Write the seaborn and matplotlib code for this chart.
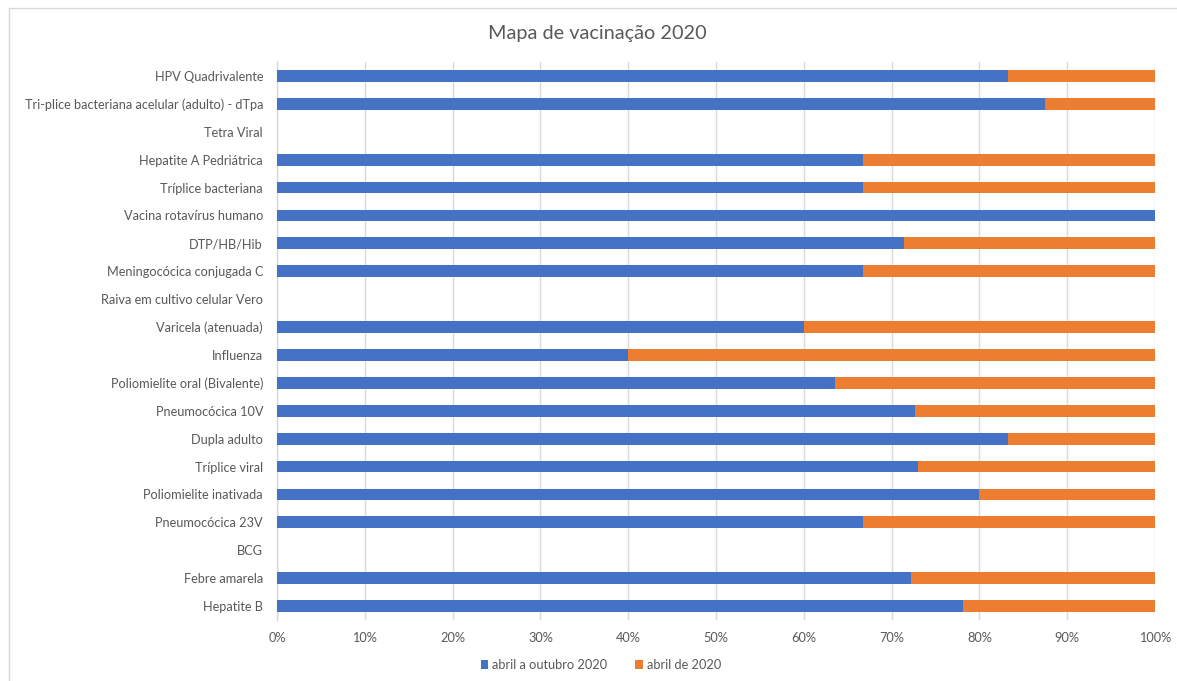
import matplotlib
matplotlib.use("Agg")
import matplotlib.pyplot as plt
from matplotlib.lines import Line2D
from matplotlib.patches import Patch
from matplotlib.ticker import PercentFormatter
import numpy as np
import pandas as pd
import seaborn as sns

# Vaccines, top to bottom
vacinas = [
    "HPV Quadrivalente",
    "Tri-plice bacteriana acelular (adulto) - dTpa",
    "Tetra Viral",
    "Hepatite A Pedriátrica",
    "Tríplice bacteriana",
    "Vacina rotavírus humano",
    "DTP/HB/Hib",
    "Meningocócica conjugada C",
    "Raiva em cultivo celular Vero",
    "Varicela (atenuada)",
    "Influenza",
    "Poliomielite oral (Bivalente)",
    "Pneumocócica 10V",
    "Dupla adulto",
    "Tríplice viral",
    "Poliomielite inativada",
    "Pneumocócica 23V",
    "BCG",
    "Febre amarela",
    "Hepatite B",
]

# Share (%) of each series; None = no doses recorded
abril_outubro = [83.3, 87.5, None, 66.7, 66.7, 100.0, 71.4, 66.7, None, 60.0,
                 40.0, 63.6, 72.7, 83.3, 73.0, 80.0, 66.7, None, 72.2, 78.1]
abril = [16.7, 12.5, None, 33.3, 33.3, 0.0, 28.6, 33.3, None, 40.0,
         60.0, 36.4, 27.3, 16.7, 27.0, 20.0, 33.3, None, 27.8, 21.9]

serie_1 = "abril a outubro 2020"
serie_2 = "abril de 2020"
titulo = "Mapa de vacinação 2020"

AZUL = "#4472C4"
LARANJA = "#ED7D31"
CINZA_TXT = "#595959"

df = pd.DataFrame({"vacina": vacinas,
                   "a": pd.Series(abril_outubro, dtype=float).fillna(0),
                   "b": pd.Series(abril, dtype=float).fillna(0)})
df["total"] = df["a"] + df["b"]

sns.set_theme(style="white")
plt.rcParams["font.family"] = ["Lato", "DejaVu Sans"]

W, H = 1177, 681
fig = plt.figure(figsize=(W / 100, H / 100), dpi=100)
ax = fig.add_axes([277 / W, 1 - 620 / H, (1155 - 277) / W, (620 - 62) / H])

# stacked: full bar in orange, blue segment drawn over it
sns.barplot(data=df, x="total", y="vacina", orient="h", color=LARANJA,
            width=0.42, saturation=1, ax=ax, errorbar=None, zorder=2,
            linewidth=0)
sns.barplot(data=df, x="a", y="vacina", orient="h", color=AZUL,
            width=0.42, saturation=1, ax=ax, errorbar=None, zorder=3,
            linewidth=0)

ax.set_xlim(0, 100)
ax.set_ylim(len(vacinas) - 0.5, -0.5)
ax.set_xticks(np.arange(0, 101, 10))
ax.xaxis.set_major_formatter(PercentFormatter(decimals=0))
ax.grid(axis="x", color="#D9D9D9", linewidth=1.0, zorder=0)
ax.set_axisbelow(True)
for s in ["top", "right", "bottom"]:
    ax.spines[s].set_visible(False)
ax.spines["left"].set_color("#D9D9D9")
ax.spines["left"].set_linewidth(1.0)
ax.set_xlabel("")
ax.set_ylabel("")
ax.tick_params(axis="both", length=0, colors=CINZA_TXT, labelsize=9.2)
ax.tick_params(axis="y", pad=10)
ax.tick_params(axis="x", pad=9)

fig.text(597 / W, 1 - 33 / H, titulo, ha="center", va="center",
         fontsize=14.3, color=CINZA_TXT)

handles = [Patch(facecolor=AZUL, edgecolor="none"),
           Patch(facecolor=LARANJA, edgecolor="none")]
fig.legend(handles, [serie_1, serie_2], loc="center",
           bbox_to_anchor=(601 / W, 1 - 665 / H), ncol=2, frameon=False,
           fontsize=9.2, handlelength=0.6, handleheight=0.6,
           handletextpad=0.3, columnspacing=2.2, labelcolor=CINZA_TXT)

# chart frame
fig.add_artist(Line2D([9 / W, 9 / W], [0, 1 - 8 / H], transform=fig.transFigure,
                      color="#D9D9D9", linewidth=1.0))
fig.add_artist(Line2D([9 / W, 1], [1 - 8 / H, 1 - 8 / H], transform=fig.transFigure,
                      color="#D9D9D9", linewidth=1.0))

fig.savefig("out.png", dpi=100, facecolor="white")
